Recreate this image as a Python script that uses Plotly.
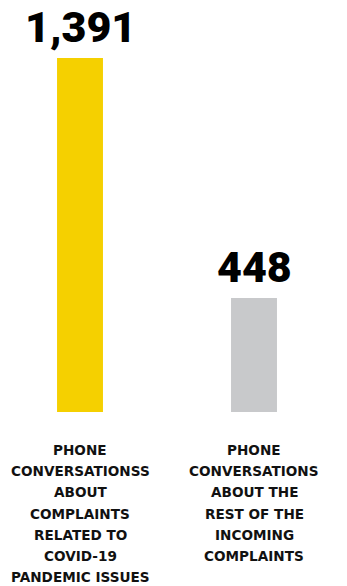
import plotly.graph_objects as go

categories = [
    "PHONE<br>CONVERSATIONSS<br>ABOUT<br>COMPLAINTS<br>RELATED TO<br>COVID-19<br>PANDEMIC ISSUES",
    "PHONE<br>CONVERSATIONS<br>ABOUT THE<br>REST OF THE<br>INCOMING<br>COMPLAINTS",
]
values = [1391, 448]
value_labels = ["1,391", "448"]
colors = ["#F5D000", "#C8C9CB"]

W, H = 347, 586
fig = go.Figure()
fig.add_trace(go.Bar(
    x=categories, y=values, marker=dict(color=colors, line=dict(width=0)),
    width=0.264, hoverinfo="skip",
))

annotations = []
for cat, v, lab in zip(categories, values, value_labels):
    annotations.append(dict(
        x=cat, y=v, xref="x", yref="y", text=lab, showarrow=False,
        yanchor="middle", yshift=31,
        font=dict(family="Roboto", size=43, color="#000000", weight=900),
    ))
    for i, line in enumerate(cat.split("<br>")):
        annotations.append(dict(
            x=cat, y=0, xref="x", yref="y", text=line, showarrow=False,
            yanchor="middle", yshift=-(38 + 21.2 * i),
            font=dict(family="DejaVu Sans", size=13.6, color="#111111", weight="bold"),
        ))

fig.update_layout(
    width=W, height=H,
    margin=dict(l=0, r=0, t=0, b=174),
    paper_bgcolor="white", plot_bgcolor="white",
    showlegend=False,
    xaxis=dict(range=[-0.4598, 1.5345], showticklabels=False, showgrid=False,
               zeroline=False, showline=False, ticks=""),
    yaxis=dict(range=[0, 1619], visible=False, showgrid=False, zeroline=False),
    annotations=annotations,
)
fig.write_html("out.html")
